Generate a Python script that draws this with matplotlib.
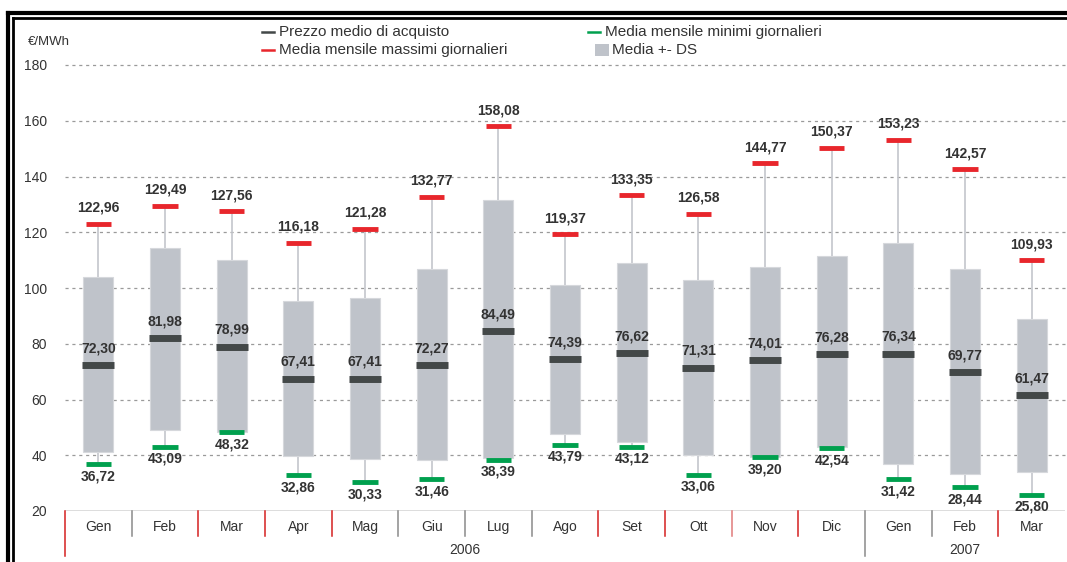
import matplotlib.pyplot as plt
from matplotlib.lines import Line2D
from matplotlib.patches import Rectangle
import matplotlib.transforms as mtransforms

# ── Data ─────────────────────────────────────────────────────────────

months = ["Gen", "Feb", "Mar", "Apr", "Mag", "Giu", "Lug", "Ago", "Set", "Ott",
          "Nov", "Dic", "Gen", "Feb", "Mar"]
years = ["2006", "2007"]
year_spans = [(0, 12), (12, 15)]

prezzo_medio = [72.30, 81.98, 78.99, 67.41, 67.41, 72.27, 84.49, 74.39, 76.62,
                71.31, 74.01, 76.28, 76.34, 69.77, 61.47]
media_max = [122.96, 129.49, 127.56, 116.18, 121.28, 132.77, 158.08, 119.37,
             133.35, 126.58, 144.77, 150.37, 153.23, 142.57, 109.93]
media_min = [36.72, 43.09, 48.32, 32.86, 30.33, 31.46, 38.39, 43.79, 43.12,
             33.06, 39.20, 42.54, 31.42, 28.44, 25.80]
# media - DS / media + DS
ds_low = [41.1, 49.0, 48.4, 39.7, 38.6, 38.3, 39.0, 47.6, 44.7, 40.0, 39.4,
          43.0, 36.8, 33.3, 34.1]
ds_high = [103.9, 114.3, 110.0, 95.3, 96.3, 106.7, 131.5, 101.0, 108.9, 102.8,
           107.5, 111.4, 116.0, 106.7, 88.8]

yticks = [20, 40, 60, 80, 100, 120, 140, 160, 180]

# ── Style ────────────────────────────────────────────────────────────

C_BOX = "#bfc3ca"
C_MEAN = "#434848"
C_MAX = "#e8262c"
C_MIN = "#00a04e"
C_WHISK = "#c4c6cc"
C_TEXT = "#333333"
plt.rcParams["font.family"] = ["Liberation Sans", "DejaVu Sans"]

W, H = 1067, 562
fig = plt.figure(figsize=(W / 100, H / 100), dpi=100)


def fx(px):
    return px / W


def fy(py):
    return (H - py) / H


ax = fig.add_axes([fx(65), fy(511), fx(1000), fy(65) - fy(511)])
ax.set_xlim(-0.5, len(months) - 0.5)
ax.set_ylim(20, 180)
for s in ax.spines.values():
    s.set_visible(False)
ax.set_xticks([])
ax.set_yticks(yticks)
ax.set_yticklabels([str(t) for t in yticks], fontsize=10, color=C_TEXT)
ax.tick_params(axis="y", length=0, pad=13)

# dashed grid
for t in yticks[1:]:
    ax.plot([-0.5, len(months) - 0.47], [t, t], color="#9a9a9a", lw=0.9,
            ls=(0, (2.5, 3)), clip_on=False, zorder=0)
ax.axhline(20, color="#555555", lw=1.0, zorder=1)

# ── Boxes, whiskers, markers ─────────────────────────────────────────

fmt = lambda v: f"{v:.2f}".replace(".", ",")
for i in range(len(months)):
    ax.plot([i, i], [media_min[i], media_max[i]], color=C_WHISK, lw=1.2, zorder=1)
    ax.add_patch(Rectangle((i - 0.225, ds_low[i]), 0.45, ds_high[i] - ds_low[i],
                           facecolor=C_BOX, edgecolor="#d6d8dc", lw=0.8, zorder=2))
    ax.plot([i - 0.24, i + 0.24], [prezzo_medio[i]] * 2, color=C_MEAN, lw=5,
            solid_capstyle="butt", zorder=3)
    ax.plot([i - 0.19, i + 0.19], [media_max[i]] * 2, color=C_MAX, lw=3.5,
            solid_capstyle="butt", zorder=3)
    ax.plot([i - 0.19, i + 0.19], [media_min[i]] * 2, color=C_MIN, lw=3.5,
            solid_capstyle="butt", zorder=3)

    ax.annotate(fmt(media_max[i]), (i, media_max[i]), textcoords="offset pixels",
                xytext=(0, 9), ha="center", va="bottom", fontsize=10,
                fontweight="bold", color=C_TEXT)
    ax.annotate(fmt(prezzo_medio[i]), (i, prezzo_medio[i]), textcoords="offset pixels",
                xytext=(0, 10), ha="center", va="bottom", fontsize=10,
                fontweight="bold", color=C_TEXT, zorder=4)
    ax.annotate(fmt(media_min[i]), (i, media_min[i]), textcoords="offset pixels",
                xytext=(0, -5), ha="center", va="top", fontsize=10,
                fontweight="bold", color=C_TEXT)

# ── Category axis (months / years) ───────────────────────────────────

tr = mtransforms.blended_transform_factory(ax.transData, fig.transFigure)
divider_colors = ["#d42020", "#8a8a8a", "#d42020", "#d42020", "#d42020", "#8a8a8a",
                  "#8a8a8a", "#8a8a8a", "#d42020", "#d42020", "#e07a7a", "#d42020",
                  "#8a8a8a", "#8a8a8a", "#d42020"]
for b in range(len(months)):
    x = b - 0.5
    long_line = b in (0, 12)
    y_end = fy(556) if long_line else fy(536)
    fig.add_artist(Line2D([x, x], [fy(511), y_end], transform=tr,
                          color=divider_colors[b], lw=1.1))
for i, m in enumerate(months):
    fig.text(i, fy(527), m, transform=tr, ha="center", va="center",
             fontsize=10, color=C_TEXT)
for yl, (a, b) in zip(years, year_spans):
    fig.text((a + b - 1) / 2, fy(550), yl, transform=tr, ha="center",
             va="center", fontsize=10, color=C_TEXT)

# ── Unit, legend ─────────────────────────────────────────────────────

fig.text(fx(28), fy(42), "€/MWh", fontsize=9.5, color=C_TEXT, va="center")

legend_items = [
    (262, 32, "line", C_MEAN, "Prezzo medio di acquisto"),
    (262, 50, "line", C_MAX, "Media mensile massimi giornalieri"),
    (588, 32, "line", C_MIN, "Media mensile minimi giornalieri"),
    (595, 50, "box", C_BOX, "Media +- DS"),
]
for px, py, kind, col, lab in legend_items:
    if kind == "line":
        fig.add_artist(Line2D([fx(px), fx(px + 12)], [fy(py), fy(py)], color=col, lw=1.8))
    else:
        fig.add_artist(Rectangle((fx(px), fy(py + 6)), fx(14), fy(py - 6) - fy(py + 6),
                                 transform=fig.transFigure, facecolor=col, edgecolor="none"))
    fig.text(fx(px + 17), fy(py), lab, fontsize=11, color=C_TEXT, va="center")

# ── Double border (top and left) ─────────────────────────────────────

for off, lw in ((0, 3.0), (5, 2.0)):
    fig.add_artist(Line2D([fx(8 + off), fx(W)], [fy(13 + off), fy(13 + off)],
                          color="black", lw=lw))
    fig.add_artist(Line2D([fx(8 + off), fx(8 + off)], [fy(13 + off), fy(H)],
                          color="black", lw=lw))

fig.savefig("out.png", dpi=100)
